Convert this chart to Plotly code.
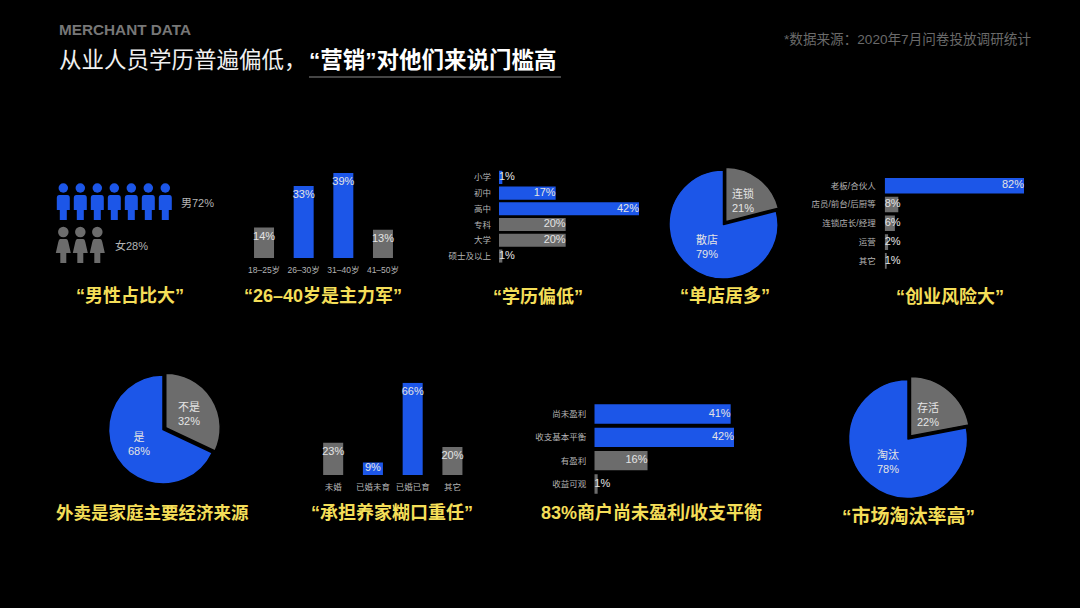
import plotly.graph_objects as go

W, H = 1080, 608
BLUE = "#1C56E8"
GRAY = "#6C6C6C"
TXT = "#E4E4E4"
LBL = "#B4B4B4"
YEL = "#F4DE58"
FONT = "Liberation Sans, Noto Sans CJK SC, sans-serif"

male_count, female_count = 7, 3
gender_labels = ["男72%", "女28%"]

age_cats = ["18–25岁", "26–30岁", "31–40岁", "41–50岁"]
age_vals = [14, 33, 39, 13]
age_hi = [0, 1, 1, 0]

edu_cats = ["小学", "初中", "高中", "专科", "大学", "硕士及以上"]
edu_vals = [1, 17, 42, 20, 20, 1]
edu_hi = [1, 1, 1, 0, 0, 0]

store_labels = ["连锁", "散店"]
store_vals = [21, 79]

role_cats = ["老板/合伙人", "店员/前台/后厨等", "连锁店长/经理", "运营", "其它"]
role_vals = [82, 8, 6, 2, 1]
role_hi = [1, 0, 0, 0, 0]

income_labels = ["不是", "是"]
income_vals = [32, 68]

family_cats = ["未婚", "已婚未育", "已婚已育", "其它"]
family_vals = [23, 9, 66, 20]
family_hi = [0, 1, 1, 0]

profit_cats = ["尚未盈利", "收支基本平衡", "有盈利", "收益可观"]
profit_vals = [41, 42, 16, 1]
profit_hi = [1, 1, 0, 0]

survive_labels = ["存活", "淘汰"]
survive_vals = [22, 78]

captions = ["“男性占比大”", "“26–40岁是主力军”", "“学历偏低”", "“单店居多”", "“创业风险大”",
            "外卖是家庭主要经济来源", "“承担养家糊口重任”", "83%商户尚未盈利/收支平衡", "“市场淘汰率高”"]
cap_pos = [(130, 296), (323, 296), (538, 296), (725, 296), (950, 296),
           (152, 513), (392, 512), (651, 512), (908, 516)]
cap_size = [18, 18, 18, 18, 18, 17.5, 18, 18, 19]

fig = go.Figure()
layout = dict(width=W, height=H, margin=dict(l=0, r=0, t=0, b=0), paper_bgcolor="#000000",
              plot_bgcolor="#000000", showlegend=False, font=dict(family=FONT, color=TXT),
              autosize=False, bargap=0.17)


def dx(a, b):
    return [a / W, b / W]


def dy(top, bottom):
    return [1 - bottom / H, 1 - top / H]


def colors(flags):
    return [BLUE if f else GRAY for f in flags]


axis_i = [1]


def add_axes(xdom, ydom, xkw, ykw):
    n = axis_i[0]
    axis_i[0] += 1
    s = "" if n == 1 else str(n)
    base = dict(showgrid=False, zeroline=False, showline=False, ticks="", fixedrange=True)
    layout["xaxis" + s] = dict(domain=dx(*xdom), anchor="y" + s, **base, **xkw)
    layout["yaxis" + s] = dict(domain=dy(*ydom), anchor="x" + s, **base, **ykw)
    return "x" + s, "y" + s


def vbar(cats, vals, hi, xdom, ydom, ymax):
    xa, ya = add_axes(xdom, ydom,
                      dict(type="category", categoryorder="array", categoryarray=cats, range=[-0.5, len(cats) - 0.5],
                           tickfont=dict(size=8.5, color=LBL), ticklabelstandoff=5),
                      dict(range=[0, ymax], showticklabels=False))
    fig.add_trace(go.Bar(x=cats, y=vals, marker=dict(color=colors(hi), line_width=0), width=0.504,
                         xaxis=xa, yaxis=ya, hoverinfo="skip"))
    fig.add_trace(go.Scatter(x=cats, y=vals, mode="markers+text", text=[f"{v}%" for v in vals],
                             marker=dict(size=[5 if v >= 10 else 0 for v in vals], opacity=0),
                             textposition="bottom center", textfont=dict(size=11, color=TXT),
                             cliponaxis=False, xaxis=xa, yaxis=ya, hoverinfo="skip"))


def hbar(cats, vals, hi, xdom, ydom, xmax, standoff=7, small=3):
    xa, ya = add_axes(xdom, ydom,
                      dict(range=[0, xmax], showticklabels=False),
                      dict(type="category", categoryorder="array", categoryarray=cats,
                           range=[len(cats) - 0.5, -0.5], tickfont=dict(size=8.5, color=LBL),
                           ticklabelstandoff=standoff))
    fig.add_trace(go.Bar(x=vals, y=cats, orientation="h", marker=dict(color=colors(hi), line_width=0),
                         xaxis=xa, yaxis=ya, hoverinfo="skip"))
    big = [v > small for v in vals]
    fig.add_trace(go.Scatter(x=[v if b else 0 for v, b in zip(vals, big)], y=cats, mode="text",
                             text=[f"{v}%" for v in vals],
                             textposition=["middle left" if b else "middle right" for b in big],
                             textfont=dict(size=11, color=TXT), cliponaxis=False,
                             xaxis=xa, yaxis=ya, hoverinfo="skip"))


def pie(labels, vals, cx, cy, r, pull):
    R = r * (1 + pull)
    fig.add_trace(go.Pie(labels=labels, values=vals, sort=False, direction="clockwise", rotation=0,
                         pull=[pull, 0], hole=0,
                         domain=dict(x=dx(cx - R, cx + R), y=dy(cy - R, cy + R)),
                         marker=dict(colors=[GRAY, BLUE], line=dict(color="#000000", width=1.5)),
                         textinfo="none", hoverinfo="skip"))


# people pictogram
xa, ya = add_axes((54.8, 173.8), (144, 276),
                  dict(range=[-0.5, 6.5], showticklabels=False, visible=False),
                  dict(range=[2, -1], showticklabels=False, visible=False))
fig.add_trace(go.Scatter(x=list(range(male_count)), y=[0] * male_count, mode="markers",
                         marker=dict(size=9.5, color=BLUE), xaxis=xa, yaxis=ya, hoverinfo="skip"))
fig.add_trace(go.Scatter(x=list(range(female_count)), y=[1] * female_count, mode="markers",
                         marker=dict(size=10.5, color=GRAY), xaxis=xa, yaxis=ya, hoverinfo="skip"))
MALE = "M-4,-7 L4,-7 Q6.5,-7 6.5,-10 L6.5,-22 L3.5,-22 L3.5,-32 L-3.5,-32 L-3.5,-22 L-6.5,-22 L-6.5,-10 Q-6.5,-7 -4,-7 Z"
FEMALE = "M-3,-7 L3,-7 Q4.5,-7 5,-10 L7.5,-21 L3,-21 L3,-31 L-3,-31 L-3,-21 L-7.5,-21 L-5,-10 Q-4.5,-7 -3,-7 Z"
shapes = []
for i in range(male_count):
    shapes.append(dict(type="path", path=MALE, xref=xa, yref=ya, xsizemode="pixel", ysizemode="pixel",
                       xanchor=i, yanchor=0, fillcolor=BLUE, line_width=0))
for i in range(female_count):
    shapes.append(dict(type="path", path=FEMALE, xref=xa, yref=ya, xsizemode="pixel", ysizemode="pixel",
                       xanchor=i, yanchor=1, fillcolor=GRAY, line_width=0))
# title underline
shapes.append(dict(type="line", xref="paper", yref="paper", x0=309 / W, x1=561 / W, y0=1 - 77 / H, y1=1 - 77 / H,
                   line=dict(color="#8A8A8A", width=1)))

vbar(age_cats, age_vals, age_hi, (244.2, 402.8), (173, 258), 39)
hbar(edu_cats, edu_vals, edu_hi, (499, 639), (169.5, 263.9), 42)
pie(store_labels, store_vals, 723.5, 224.5, 54.5, 0.065)
hbar(role_cats, role_vals, role_hi, (884.7, 1024), (176.3, 270.3), 82, standoff=8, small=8)
pie(income_labels, income_vals, 163, 429.5, 54.5, 0.06)
vbar(family_cats, family_vals, family_hi, (313.3, 472.3), (382.7, 475), 66)
hbar(profit_cats, profit_vals, profit_hi, (594.3, 734), (402.3, 495.7), 42)
pie(survive_labels, survive_vals, 908, 439, 59.5, 0.065)


def note(x, y, text, size, color, anchor="center", bold=False):
    t = f"<b>{text}</b>" if bold else text
    return dict(xref="paper", yref="paper", x=x / W, y=1 - y / H, text=t, showarrow=False, xanchor=anchor,
                yanchor="middle", font=dict(size=size, color=color, family=FONT))


def pie_note(x, y, label, value):
    return note(x, y, f"{label}<br>{value}%", 11, TXT)


ann = [
    note(57, 30, "MERCHANT DATA", 15.3, "#777777", anchor="left", bold=True),
    note(57, 60, "从业人员学历普遍偏低，", 22.5, "#F0F0F0", anchor="left"),
    note(307, 60, "“营销”对他们来说门槛高", 22.5, "#FFFFFF", anchor="left", bold=True),
    note(1032.5, 39, "*数据来源：2020年7月问卷投放调研统计", 13.6, "#6A6A6A", anchor="right"),
    note(179, 203, gender_labels[0], 11, LBL, anchor="left"),
    note(113, 246, gender_labels[1], 11, LBL, anchor="left"),
    pie_note(743, 200.5, store_labels[0], store_vals[0]),
    pie_note(707, 246.5, store_labels[1], store_vals[1]),
    pie_note(189, 414, income_labels[0], income_vals[0]),
    pie_note(138.5, 444, income_labels[1], income_vals[1]),
    pie_note(928, 414, survive_labels[0], survive_vals[0]),
    pie_note(888, 462, survive_labels[1], survive_vals[1]),
]
for c, (x, y), s in zip(captions, cap_pos, cap_size):
    ann.append(note(x, y, c, s, YEL, bold=True))

layout["annotations"] = ann
layout["shapes"] = shapes
fig.update_layout(**layout)
fig.write_html("out.html", config=dict(displayModeBar=False),
               post_script="document.body.style.margin='0';document.body.style.background='#000';")
